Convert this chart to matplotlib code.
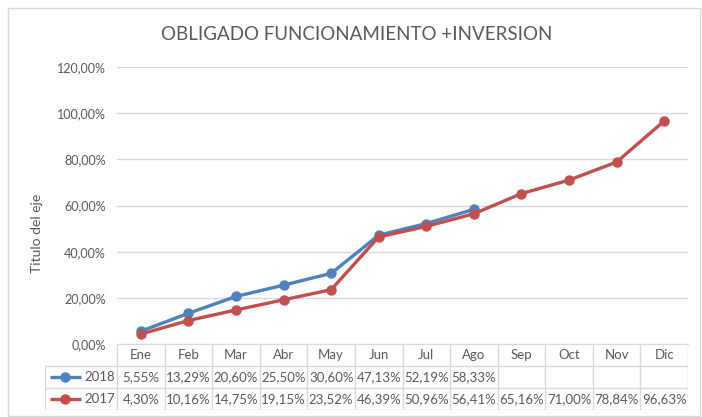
import matplotlib
matplotlib.use("Agg")
import matplotlib.pyplot as plt
from matplotlib.patches import Rectangle

plt.rcParams['font.family'] = ['Lato', 'DejaVu Sans']

# datos
meses = ['Ene', 'Feb', 'Mar', 'Abr', 'May', 'Jun', 'Jul', 'Ago', 'Sep', 'Oct', 'Nov', 'Dic']
v2018 = [5.55, 13.29, 20.60, 25.50, 30.60, 47.13, 52.19, 58.33]
v2017 = [4.30, 10.16, 14.75, 19.15, 23.52, 46.39, 50.96, 56.41, 65.16, 71.00, 78.84, 96.63]
series = [('2018', v2018, '#4F81BD'), ('2017', v2017, '#C0504D')]
yticks = [0, 20, 40, 60, 80, 100, 120]

W, H = 702, 417
txt = '#595959'
grid = '#D9D9D9'

fig = plt.figure(figsize=(W / 100, H / 100), dpi=100)


def px_rect(x0, y0, x1, y1):
    return [x0 / W, 1 - y1 / H, (x1 - x0) / W, (y1 - y0) / H]


# marco del grafico
fig.patches.append(Rectangle((8 / W, 1 / H), 692 / W, 408 / H, transform=fig.transFigure,
                             fill=False, edgecolor='#D9D9D9', lw=1))

ax = fig.add_axes(px_rect(117, 67, 688, 344))
n = len(meses)
for label, vals, col in series:
    ax.plot(range(len(vals)), [v / 100 for v in vals], color=col, lw=2.4,
            marker='o', ms=6.5, zorder=3)
ax.set_xlim(-0.5, n - 0.5)
ax.set_ylim(0, 1.2)
ax.set_yticks([t / 100 for t in yticks])
ax.set_yticklabels([f'{t:.2f}%'.replace('.', ',') for t in yticks], color=txt, fontsize=9)
ax.tick_params(axis='y', length=0, pad=8)
ax.set_xticks([])
ax.grid(axis='y', color=grid, lw=1)
for s in ['top', 'right', 'left']:
    ax.spines[s].set_visible(False)
ax.spines['bottom'].set_color(grid)
ax.set_ylabel('Titulo del eje', color=txt, fontsize=10, labelpad=10)
ax.yaxis.set_label_coords(-0.13, 0.4)

fig.text(357 / W, 1 - 35 / H, 'OBLIGADO FUNCIONAMIENTO +INVERSION', ha='center', va='center',
         color=txt, fontsize=13.5)

# tabla de datos
leg_w = (117 - 45) / ((688 - 117) / n)
tx = fig.add_axes(px_rect(45, 344, 688, 410))
tx.set_xlim(-0.5 - leg_w, n - 0.5)
tx.set_ylim(3, 0)
tx.axis('off')
lk = dict(color=grid, lw=1)
for i in range(n + 1):
    tx.plot([i - 0.5, i - 0.5], [0, 3], **lk)
tx.plot([-0.5 - leg_w, -0.5 - leg_w], [1, 3], **lk)
tx.plot([-0.5 - leg_w, n - 0.5], [1, 1], **lk)
tx.plot([-0.5 - leg_w, n - 0.5], [2, 2], **lk)
tx.plot([-0.5 - leg_w, n - 0.5], [3, 3], **lk)
for i, m in enumerate(meses):
    tx.text(i, 0.5, m, ha='center', va='center', color=txt, fontsize=9.5)
for r, (label, vals, col) in enumerate(series):
    y = r + 1.5
    x0 = -0.5 - leg_w
    tx.plot([x0 + 0.1, x0 + 0.75], [y, y], color=col, lw=2.4, marker='', solid_capstyle='butt')
    tx.plot([x0 + 0.42], [y], color=col, marker='o', ms=6.5)
    tx.text(-0.55, y, label, ha='right', va='center', color=txt, fontsize=9.5)
    for i, v in enumerate(vals):
        tx.text(i, y, f'{v:.2f}%'.replace('.', ','), ha='center', va='center', color=txt, fontsize=9.5)

fig.savefig('out.png', dpi=100)
